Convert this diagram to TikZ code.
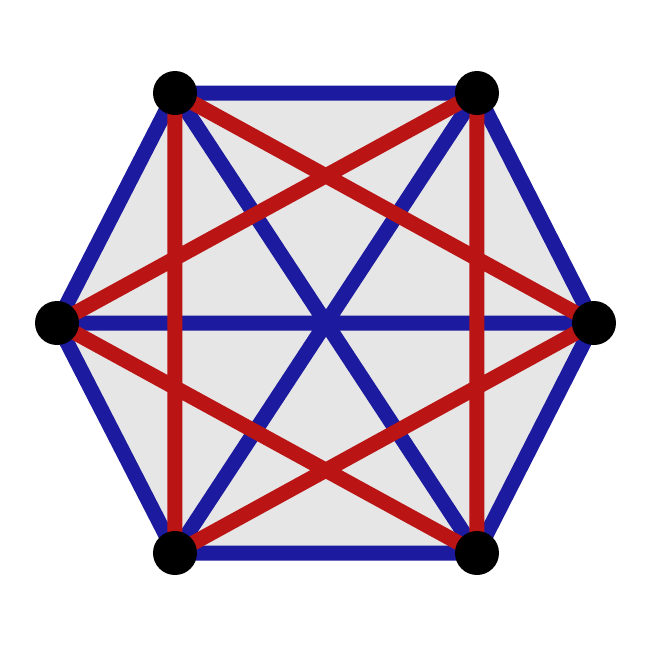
\documentclass[tikz,border=0pt]{standalone}
\definecolor{eblue}{HTML}{1C1A9E}
\definecolor{ered}{HTML}{BA1414}
\definecolor{hfill}{HTML}{E6E6E6}
\begin{document}
\begin{tikzpicture}[x=0.01cm,y=-0.01cm,
  bedge/.style={draw=eblue,line width=15*0.01cm},
  redge/.style={draw=ered,line width=15*0.01cm},
  vert/.style={circle,fill=black,minimum size=44*0.01cm,inner sep=0pt}]
\useasboundingbox (0,0) rectangle (650,650);
\coordinate (pa) at (175,93);
\coordinate (pb) at (477,93);
\coordinate (pc) at (594,323);
\coordinate (pd) at (477,553);
\coordinate (pe) at (175,553);
\coordinate (pf) at (57,323);
\fill[hfill] (pa)--(pb)--(pc)--(pd)--(pe)--(pf)--cycle;
\draw[bedge] (pa)--(pb) (pb)--(pc) (pc)--(pd) (pd)--(pe) (pe)--(pf) (pf)--(pa);
\draw[bedge] (pa)--(pd) (pb)--(pe) (pf)--(pc);
\draw[redge] (pa)--(pe) (pb)--(pd) (pa)--(pc) (pb)--(pf) (pf)--(pd) (pc)--(pe);
\node[vert] (a) at (pa) {};
\node[vert] (b) at (pb) {};
\node[vert] (c) at (pc) {};
\node[vert] (d) at (pd) {};
\node[vert] (e) at (pe) {};
\node[vert] (f) at (pf) {};
\end{tikzpicture}
\end{document}
